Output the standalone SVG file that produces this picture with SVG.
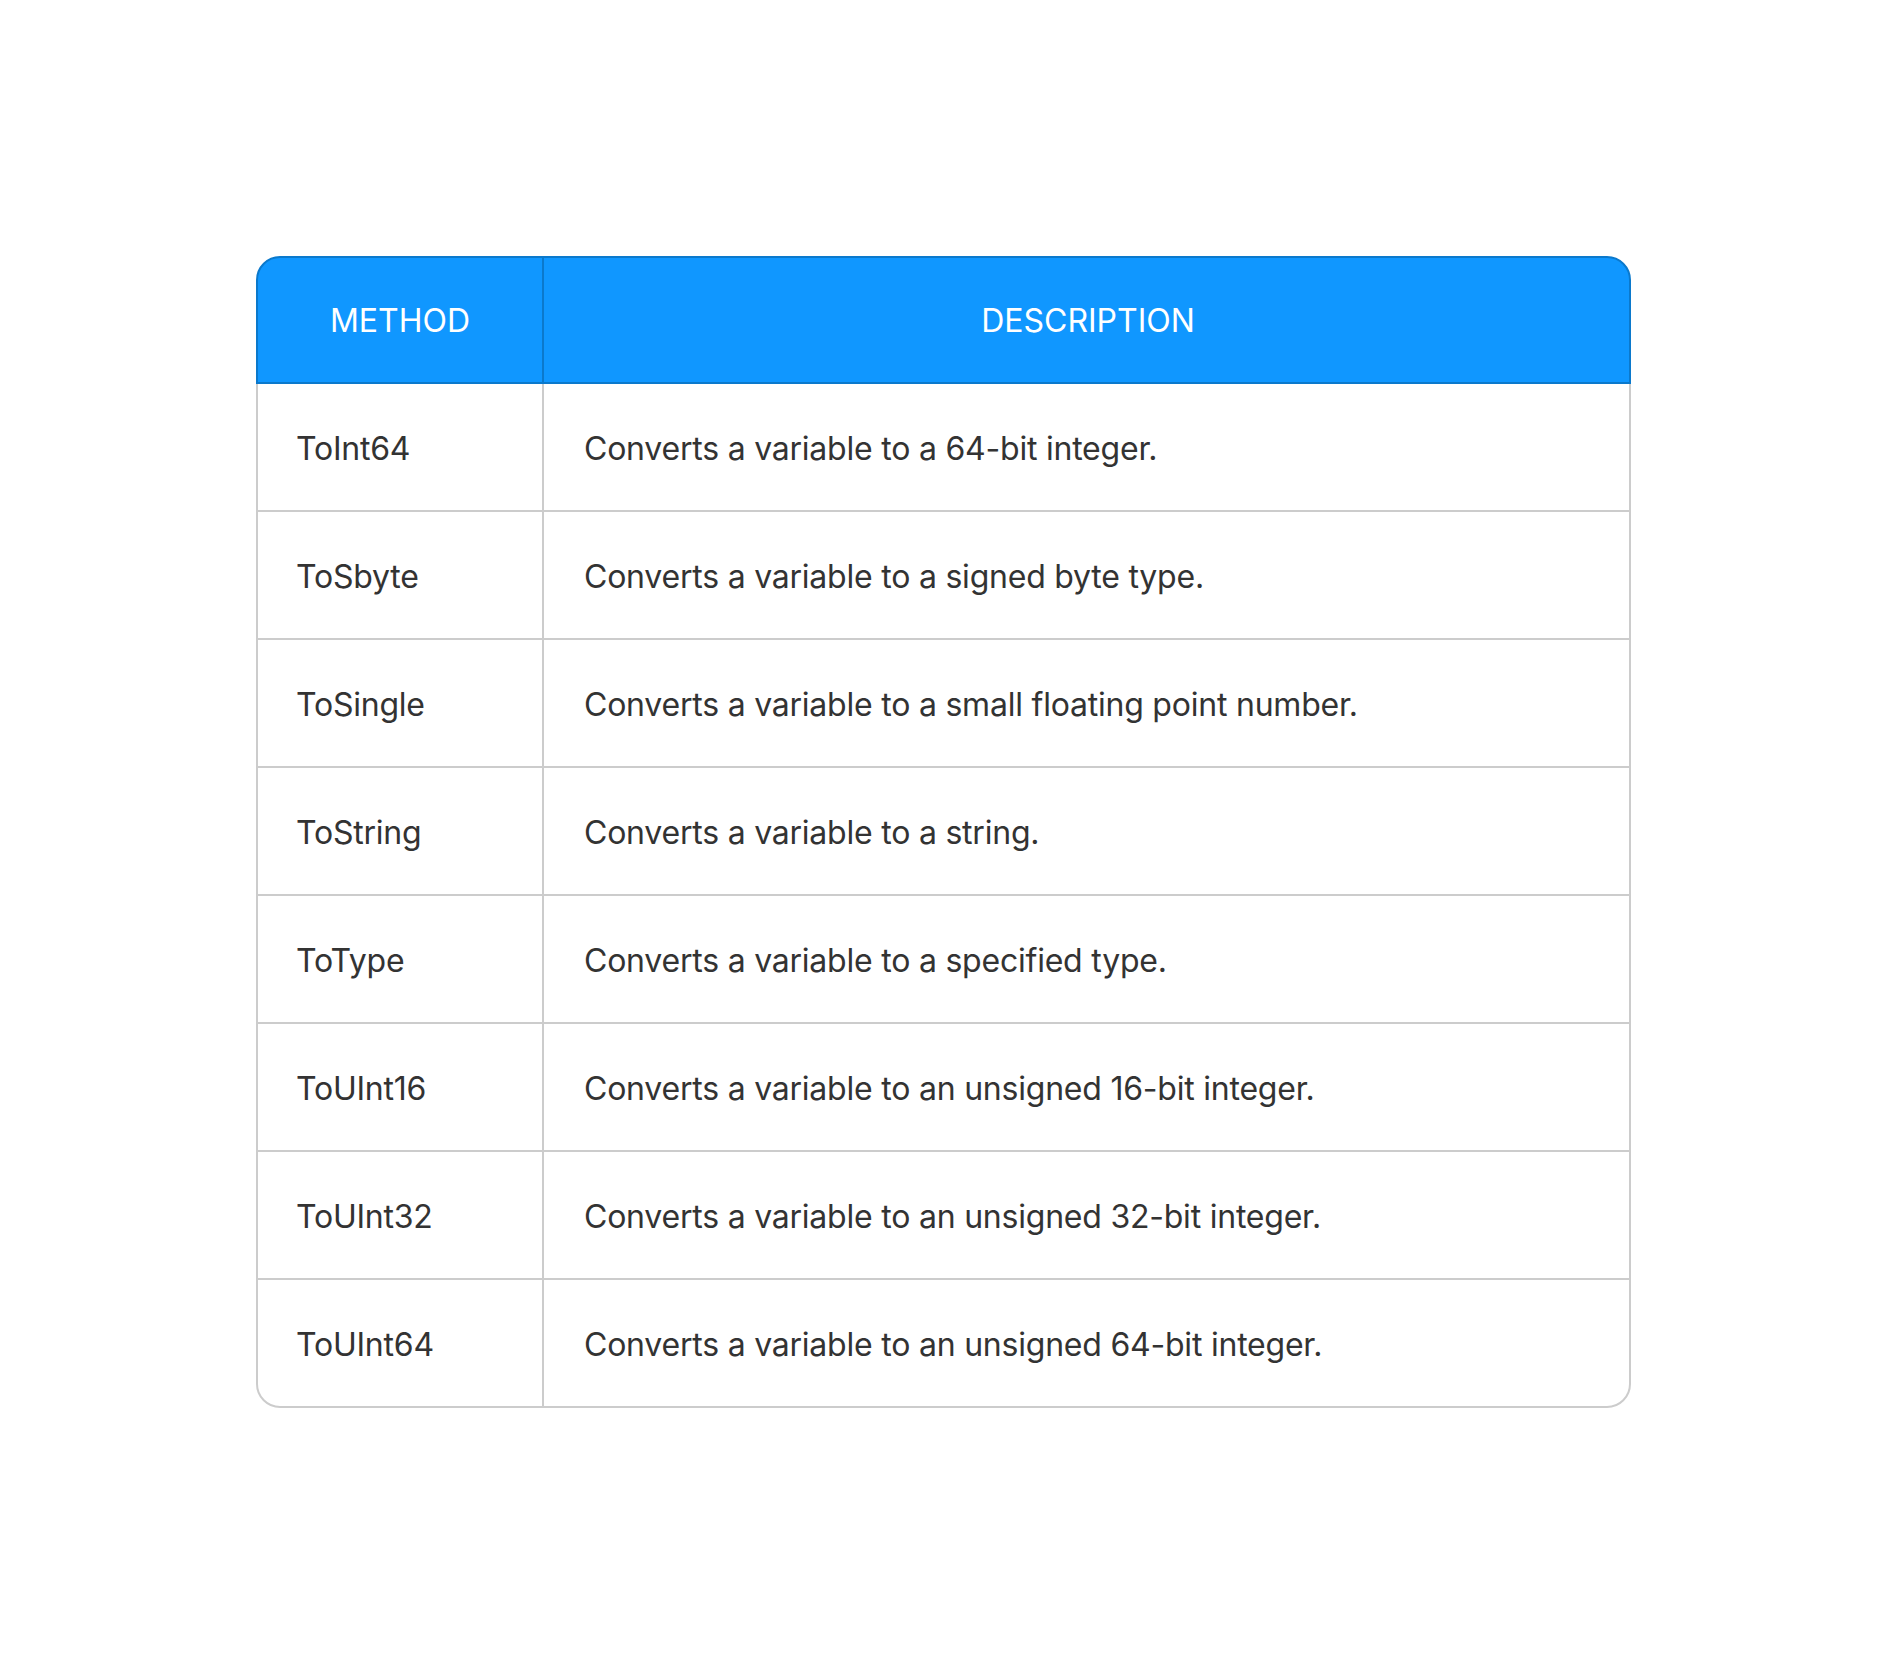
<svg xmlns="http://www.w3.org/2000/svg" width="1888" height="1664" viewBox="0 0 1888 1664">
<style>
.hdr{fill:#1097FF;stroke:#0B79CC;stroke-width:2}
.grid{stroke:#CCCCCC;stroke-width:2;fill:none}
.ht{font-family:Inter,"Noto Sans","Liberation Sans",sans-serif;font-size:32px;fill:#FFFFFF;text-anchor:middle}
.bt{font-family:Inter,"Noto Sans","Liberation Sans",sans-serif;font-size:32px;fill:#333333;letter-spacing:-0.22px}
</style>
<rect width="1888" height="1664" fill="#FFFFFF"/>
<g id="table-body">
<path class="grid" fill="#FFFFFF" d="M257,383 V1384 A23,23 0 0 0 280,1407 H1607 A23,23 0 0 0 1630,1384 V383"/>
</g>
<g id="grid-lines">
<line class="grid" x1="257" y1="511" x2="1630" y2="511"/>
<line class="grid" x1="257" y1="639" x2="1630" y2="639"/>
<line class="grid" x1="257" y1="767" x2="1630" y2="767"/>
<line class="grid" x1="257" y1="895" x2="1630" y2="895"/>
<line class="grid" x1="257" y1="1023" x2="1630" y2="1023"/>
<line class="grid" x1="257" y1="1151" x2="1630" y2="1151"/>
<line class="grid" x1="257" y1="1279" x2="1630" y2="1279"/>
<line class="grid" x1="543" y1="383" x2="543" y2="1407"/>
</g>
<g id="header">
<path class="hdr" d="M257,383 V280 A23,23 0 0 1 280,257 H1607 A23,23 0 0 1 1630,280 V383 Z"/>
<line x1="543" y1="257" x2="543" y2="383" stroke="#0B79CC" stroke-width="2"/>
<text class="ht" x="400" y="332">METHOD</text>
<text class="ht" x="1088" y="332">DESCRIPTION</text>
</g>
<g id="row-1"><text class="bt" x="296" y="460">ToInt64</text><text class="bt" x="584" y="460">Converts a variable to a 64-bit integer.</text></g>
<g id="row-2"><text class="bt" x="296" y="588">ToSbyte</text><text class="bt" x="584" y="588">Converts a variable to a signed byte type.</text></g>
<g id="row-3"><text class="bt" x="296" y="716">ToSingle</text><text class="bt" x="584" y="716">Converts a variable to a small floating point number.</text></g>
<g id="row-4"><text class="bt" x="296" y="844">ToString</text><text class="bt" x="584" y="844">Converts a variable to a string.</text></g>
<g id="row-5"><text class="bt" x="296" y="972">ToType</text><text class="bt" x="584" y="972">Converts a variable to a specified type.</text></g>
<g id="row-6"><text class="bt" x="296" y="1100">ToUInt16</text><text class="bt" x="584" y="1100">Converts a variable to an unsigned 16-bit integer.</text></g>
<g id="row-7"><text class="bt" x="296" y="1228">ToUInt32</text><text class="bt" x="584" y="1228">Converts a variable to an unsigned 32-bit integer.</text></g>
<g id="row-8"><text class="bt" x="296" y="1356">ToUInt64</text><text class="bt" x="584" y="1356">Converts a variable to an unsigned 64-bit integer.</text></g>
</svg>
